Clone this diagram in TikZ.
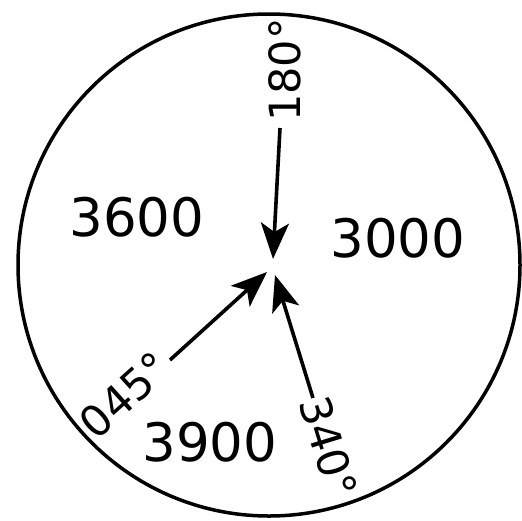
\documentclass[tikz,border=0pt]{standalone}
\usepackage{fontspec}
\setmainfont{DejaVu Sans}
\usetikzlibrary{arrows.meta}
\begin{document}
\begin{tikzpicture}[x=1pt,y=-1pt,
  big/.style={font=\fontsize{53}{60}\selectfont, inner sep=0pt},
  hdg/.style={font=\fontsize{43}{50}\selectfont, inner sep=0pt},
  wind/.style={line width=3.6pt, -{Stealth[length=36pt,width=28pt,inset=9pt]}}]
\useasboundingbox (0,0) rectangle (522,520);
\fill[white] (0,0) rectangle (522,520);
\node[draw, circle, line width=3.5pt, minimum size=502pt, inner sep=0pt] (ring) at (269,265) {};
\coordinate (t1) at (280,128);
\coordinate (h1) at (273,259);
\coordinate (t2) at (170,360);
\coordinate (h2) at (267,272);
\coordinate (t3) at (313,398);
\coordinate (h3) at (275,275);
\draw[wind] (t1) -- (h1);
\draw[wind] (t2) -- (h2);
\draw[wind] (t3) -- (h3);
\node[hdg, rotate=90] (l1) at (285,70) {180°};
\node[hdg, rotate=42] (l2) at (125,395) {045°};
\node[hdg, rotate=-73] (l3) at (329,447) {340°};
\node[big] (a) at (137,217) {3600};
\node[big] (b) at (398,238) {3000};
\node[big] (c) at (210,442) {3900};
\end{tikzpicture}
\end{document}
